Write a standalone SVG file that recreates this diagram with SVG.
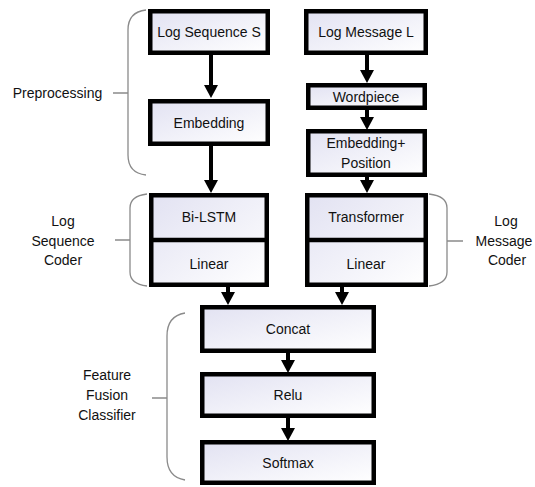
<svg xmlns="http://www.w3.org/2000/svg" width="535" height="487" viewBox="0 0 535 487">
<defs>
<linearGradient id="fill" x1="0" y1="0" x2="1" y2="1">
<stop offset="0" stop-color="#e2e2f2"/>
<stop offset="1" stop-color="#ffffff"/>
</linearGradient>
<marker id="ah" markerUnits="userSpaceOnUse" markerWidth="16" markerHeight="14" viewBox="0 0 16 14" refX="0" refY="7" orient="auto">
<path d="M0,0 L13,7 L0,14 Z" fill="#000"/>
</marker>
</defs>
<style>
.box{fill:url(#fill);stroke:#000;stroke-width:4.5}
.div{stroke:#000;stroke-width:4.5}
.t{font-family:"Liberation Sans",Arial,sans-serif;font-size:14px;fill:#111;text-anchor:middle;dominant-baseline:central}
.c{fill:none;stroke:#000;stroke-width:4;marker-end:url(#ah)}
.br{fill:none;stroke:#8a8a8a;stroke-width:1.3}
</style>
<rect width="535" height="487" fill="#fff"/>

<g id="connectors">
<line class="c" x1="211" y1="54" x2="211" y2="85"/>
<line class="c" x1="211" y1="146" x2="211" y2="180"/>
<line class="c" x1="367" y1="55" x2="367" y2="70"/>
<line class="c" x1="367" y1="110" x2="367" y2="117"/>
<line class="c" x1="367" y1="177" x2="367" y2="180"/>
<line class="c" x1="228" y1="287" x2="228" y2="292"/>
<line class="c" x1="342" y1="287" x2="342" y2="292"/>
<line class="c" x1="288" y1="353" x2="288" y2="360"/>
<line class="c" x1="288" y1="418" x2="288" y2="428"/>
</g>

<g id="brace-preprocessing">
<path class="br" d="M146,10 Q128,12 128,30 V155 Q128,173 146,175 M113,93 H128"/>
<text class="t" x="57.5" y="93">Preprocessing</text>
</g>
<g id="brace-seqcoder">
<path class="br" d="M147,194 Q130,196 130,208 V272 Q130,284 147,286 M115,240 H130"/>
<text class="t" x="63" y="221">Log</text>
<text class="t" x="63" y="240.5">Sequence</text>
<text class="t" x="63" y="260">Coder</text>
</g>
<g id="brace-msgcoder">
<path class="br" d="M429,194 Q447,196 447,208 V272 Q447,284 429,286 M447,241 H463"/>
<text class="t" x="506" y="221">Log</text>
<text class="t" x="504" y="240.5">Message</text>
<text class="t" x="507" y="260">Coder</text>
</g>
<g id="brace-fusion">
<path class="br" d="M185,313 Q167,316 167,336 V457 Q167,477 185,480 M152,398 H167"/>
<text class="t" x="107" y="375">Feature</text>
<text class="t" x="107" y="395">Fusion</text>
<text class="t" x="107" y="415">Classifier</text>
</g>

<g id="node-logseq">
<rect class="box" x="150.25" y="11.25" width="117.5" height="41.5"/>
<text class="t" x="209" y="32">Log Sequence S</text>
</g>
<g id="node-embedding">
<rect class="box" x="150.25" y="101.25" width="117.5" height="42.5"/>
<text class="t" x="209" y="122.5">Embedding</text>
</g>
<g id="node-seqcoder">
<rect class="box" x="151.25" y="195.25" width="115.5" height="89.5"/>
<line class="div" x1="151" y1="240" x2="267" y2="240"/>
<text class="t" x="209" y="217">Bi-LSTM</text>
<text class="t" x="209" y="263.5">Linear</text>
</g>
<g id="node-logmsg">
<rect class="box" x="306.25" y="11.25" width="119.5" height="41.5"/>
<text class="t" x="366" y="32">Log Message L</text>
</g>
<g id="node-wordpiece">
<rect class="box" x="308.25" y="85.25" width="116.5" height="22.5"/>
<text class="t" x="366" y="96.5">Wordpiece</text>
</g>
<g id="node-embpos">
<rect class="box" x="308.25" y="131.25" width="116.5" height="43.5"/>
<text class="t" x="366" y="143">Embedding+</text>
<text class="t" x="366" y="163">Position</text>
</g>
<g id="node-msgcoder">
<rect class="box" x="307.25" y="195.25" width="118.5" height="89.5"/>
<line class="div" x1="307" y1="240" x2="426" y2="240"/>
<text class="t" x="366" y="217">Transformer</text>
<text class="t" x="366" y="263.5">Linear</text>
</g>
<g id="node-concat">
<rect class="box" x="202.25" y="307.25" width="171.5" height="43.5"/>
<text class="t" x="288" y="329">Concat</text>
</g>
<g id="node-relu">
<rect class="box" x="202.25" y="374.25" width="171.5" height="41.5"/>
<text class="t" x="288" y="395">Relu</text>
</g>
<g id="node-softmax">
<rect class="box" x="202.25" y="442.25" width="171.5" height="40.5"/>
<text class="t" x="288" y="462.5">Softmax</text>
</g>
</svg>
